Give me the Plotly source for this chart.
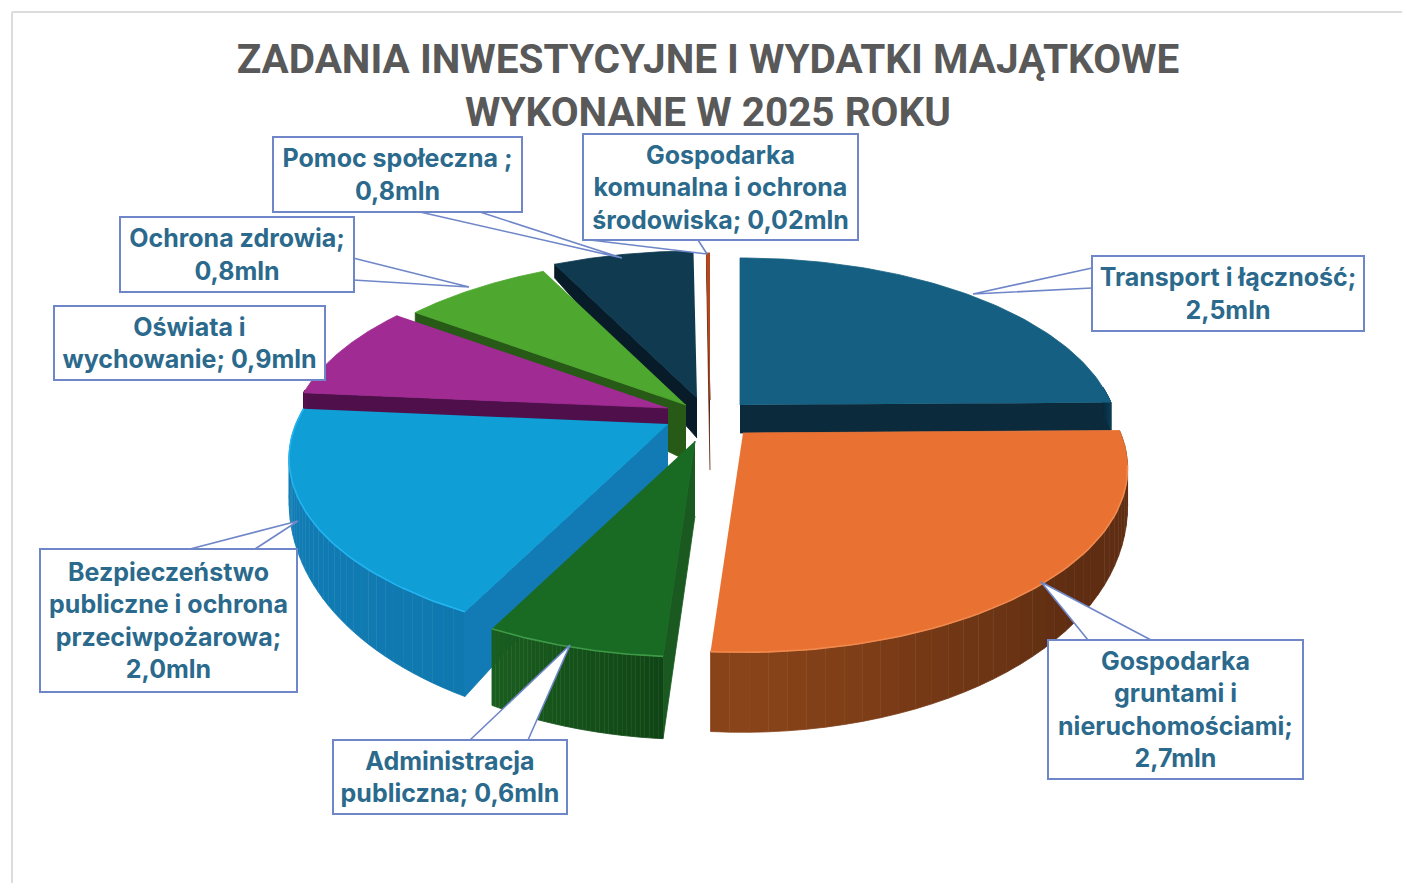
import numpy as np
import plotly.graph_objects as go

# ---- data ----
categories = ["Transport i łączność", "Gospodarka gruntami i nieruchomościami", "Administracja publiczna",
              "Bezpieczeństwo publiczne i ochrona przeciwpożarowa", "Oświata i wychowanie", "Ochrona zdrowia",
              "Pomoc społeczna", "Gospodarka komunalna i ochrona środowiska"]
values = [2.5, 2.7, 0.6, 2.0, 0.9, 0.8, 0.8, 0.02]
label_texts = ["Transport i łączność;<br>2,5mln",
               "Gospodarka<br>gruntami i<br>nieruchomościami;<br>2,7mln",
               "Administracja<br>publiczna; 0,6mln",
               "Bezpieczeństwo<br>publiczne i ochrona<br>przeciwpożarowa;<br>2,0mln",
               "Oświata i<br>wychowanie; 0,9mln",
               "Ochrona zdrowia;<br>0,8mln",
               "Pomoc społeczna ;<br>0,8mln",
               "Gospodarka<br>komunalna i ochrona<br>środowiska; 0,02mln"]
title_text = "ZADANIA INWESTYCYJNE I WYDATKI MAJĄTKOWE<br>WYKONANE W 2025 ROKU"

# ---- style ----
top_colors = ["#156082", "#E97132", "#196B24", "#0F9ED5", "#A02B93", "#4EA72E", "#0F3A50", "#B5481C"]
wall_light = ["#0E3F56", "#8A4419", "#1A5E1F", "#127FB8", "#5A1253", "#2F6A1C", "#0A2535", "#7A3010"]
wall_dark = ["#0C2C3D", "#5E2D12", "#104515", "#0F78AF", "#4A0E45", "#254F16", "#071C28", "#5E2510"]
radial_colors = ["#0B2A3B", "#6F3415", "#1A5A20", "#127BB5", "#4F0F4A", "#275A17", "#071C28", "#5E2510"]
rim_colors = [None, "#F08A4E", "#3E9A48", "#23B4F0", None, None, None, None]
apex = [(740, 405), (743, 433), (695, 441), (668, 424), (668, 408), (686, 405), (697, 398), (710, 400)]
apex_depth = [28, 40, 75, 50, 20, 55, 40, 70]
depth_scale = [1.0, 1.0, 1.03, 1.14, 1.0, 1.0, 1.0, 1.0]
scale = [1.0, 1.015, 1.0, 1.0, 1.0, 1.0, 1.0, 1.0]
draw_order = [7, 6, 5, 0, 4, 3, 1, 2]
# perspective warp of the pie's angles: source angle -> drawn angle shift
warp_from = [0, 88, 182, 203, 272, 304, 332, 360]
warp_by = [0, 2, 2.6, 4.7, 3, 2.5, 2, 0]
RX, RY, P = 372.0, 175.0, 0.19

box_rects = [(1092, 256, 1364, 331), (1048, 640, 1303, 779), (333, 740, 567, 814), (40, 549, 297, 692),
             (54, 306, 325, 380), (120, 217, 354, 292), (273, 137, 522, 212), (583, 134, 858, 240)]
callouts = [((1092, 268), (973, 294), (1092, 288)), ((1088, 640), (1041, 582), (1151, 640)),
            ((470, 740), (570, 645), (528, 740)), ((190, 549), (298, 521), (255, 549)),
            None, ((353, 258), (469, 287), (353, 280)), ((420, 212), (622, 258), (480, 212)),
            ((590, 240), (707, 254), (698, 240))]
BORDER = "#6F86C8"
TEXT = "#2B6A8C"

fig = go.Figure()


def poly(x, y, color, line=None, width=0.8):
    fig.add_trace(go.Scatter(x=x, y=y, mode="lines", fill="toself", fillcolor=color,
                             line=dict(color=line or color, width=width), hoverinfo="skip", showlegend=False))


total = sum(values)
edges = np.concatenate([[0], np.cumsum(values)]) / total * 360.0
edges = edges + np.interp(edges, warp_from, warp_by)


def rim(i, th, r=1.0):
    t = np.radians(th)
    X, Y = r * np.sin(t), -r * np.cos(t)
    s = 1 / (1 - P * Y)
    return apex[i][0] + RX * scale[i] * X * s, apex[i][1] + RY * scale[i] * Y * s


def depth(i, th, r=1.0):
    Y = -np.cos(np.radians(th))
    d_rim = np.interp(Y, [-1, 0, 1], [12, 28, 80]) * depth_scale[i]
    return apex_depth[i] + (d_rim - apex_depth[i]) * r


def mix(a, b, f):
    ca = [int(a[k:k + 2], 16) for k in (1, 3, 5)]
    cb = [int(b[k:k + 2], 16) for k in (1, 3, 5)]
    return "#%02X%02X%02X" % tuple(int(round(u + (v - u) * f)) for u, v in zip(ca, cb))


for i in draw_order:
    a, b = edges[i], edges[i + 1]
    # radial walls that face the viewer
    for th, visible in ((a, np.sin(np.radians(a)) < 0), (b, np.sin(np.radians(b)) > 0)):
        if visible:
            rx_, ry_ = rim(i, th)
            ax_, ay_ = apex[i]
            poly([ax_, rx_, rx_, ax_], [ay_, ry_, ry_ + depth(i, th), ay_ + apex_depth[i]], radial_colors[i])
    # outer wall (front part)
    lo, hi = max(a, 84.0), min(b, 276.0)
    if hi > lo:
        n_strips = 40
        cuts = np.linspace(lo, hi, n_strips + 1)
        for k in range(n_strips):
            ths = np.linspace(cuts[k], cuts[k + 1], 3)
            px, py = zip(*[rim(i, t) for t in ths])
            d = [depth(i, t) for t in ths]
            xs = list(px) + list(px[::-1])
            ys = list(py) + [y + dd for y, dd in zip(py[::-1], d[::-1])]
            mid = (cuts[k] + cuts[k + 1]) / 2
            if i == 1:
                c = mix(wall_light[i], wall_dark[i], min(1.0, abs(mid - 180.0) / 50.0))
            else:
                c = mix(wall_dark[i], wall_light[i], (mid - lo) / (hi - lo))
            poly(xs, ys, c)
    # top face
    ths = np.linspace(a, b, 80)
    px, py = zip(*[rim(i, t) for t in ths])
    poly([apex[i][0]] + list(px), [apex[i][1]] + list(py), top_colors[i])
    if rim_colors[i]:
        ths2 = np.linspace(max(a, 100), min(b, 276), 60)
        px2, py2 = zip(*[rim(i, t) for t in ths2])
        fig.add_trace(go.Scatter(x=px2, y=py2, mode="lines", line=dict(color=rim_colors[i], width=1.6),
                                 hoverinfo="skip", showlegend=False))

# callouts
for c in callouts:
    if c:
        xs, ys = zip(*c)
        fig.add_trace(go.Scatter(x=xs, y=ys, mode="lines", fill="toself", fillcolor="white",
                                 line=dict(color=BORDER, width=1.6), hoverinfo="skip", showlegend=False))

annotations = []
for txt, (x0, y0, x1, y1) in zip(label_texts, box_rects):
    annotations.append(dict(x=(x0 + x1) / 2, y=(y0 + y1) / 2, xref="x", yref="y", text="<b>%s</b>" % txt,
                            showarrow=False, xanchor="center", yanchor="middle", align="center", valign="middle",
                            width=x1 - x0 - 2, height=y1 - y0 - 2, bgcolor="white", bordercolor=BORDER,
                            borderwidth=2, borderpad=0, font=dict(family="Inter", size=25, color=TEXT)))

shapes = [dict(type="line", x0=12, x1=12, y0=12, y1=883, xref="x", yref="y", line=dict(color="#DCDCDC", width=2)),
          dict(type="line", x0=12, x1=1402, y0=12, y1=12, xref="x", yref="y", line=dict(color="#DCDCDC", width=2))]

fig.update_layout(
    width=1402, height=883, margin=dict(l=0, r=0, t=0, b=0), paper_bgcolor="white", plot_bgcolor="white",
    showlegend=False,
    title=dict(text="<b>%s</b>" % title_text, x=0.505, xanchor="center", y=0.917, yanchor="top",
               font=dict(family="Roboto", size=40.5, color="#595959")),
    xaxis=dict(range=[0, 1402], visible=False, fixedrange=True),
    yaxis=dict(range=[883, 0], visible=False, fixedrange=True),
    annotations=annotations, shapes=shapes,
)
fig.write_html("out.html", config={"displayModeBar": False},
               post_script="document.body.style.margin='0';document.body.style.overflow='hidden';")
